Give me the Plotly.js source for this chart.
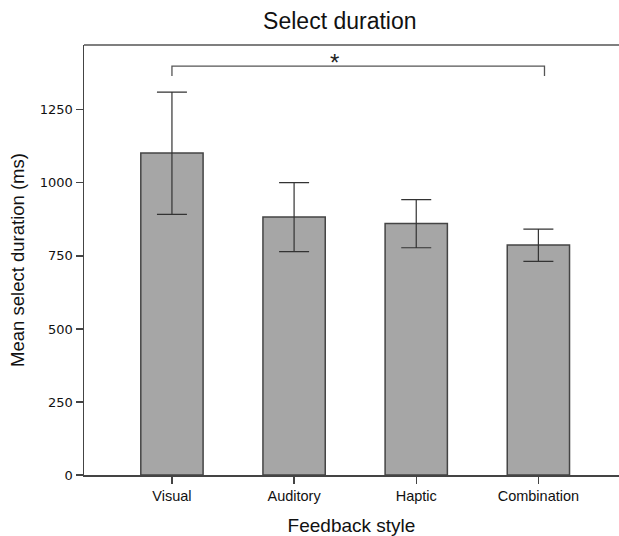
<!DOCTYPE html>
<html>
<head>
<meta charset="utf-8">
<script src="https://cdn.plot.ly/plotly-3.0.1.min.js"></script>
<style>html,body{margin:0;padding:0;background:#fff;}#chart{width:619px;height:536px;}</style>
</head>
<body>
<div id="chart"></div>
<script>
const categories = ['Visual', 'Auditory', 'Haptic', 'Combination'];
const means = [1102, 883, 861, 787];
const errPlus = [209, 118, 82, 55];
const errMinus = [210, 118, 83, 56];
const yTicks = [0, 250, 500, 750, 1000, 1250];
const bracketFrom = 0;
const bracketTo = 3.05;
const bracketTop = 1400;
const bracketBottom = 1366;
const sigLabel = '*';

const trace = {
  type: 'bar',
  x: [0, 1, 2, 3],
  y: means,
  width: 0.51,
  marker: {color: '#a6a6a6', line: {color: '#444444', width: 1.5}},
  error_y: {type: 'data', symmetric: false, array: errPlus, arrayminus: errMinus,
            color: '#333333', thickness: 1.2, width: 15},
  hoverinfo: 'none'
};

const layout = {
  width: 619, height: 536,
  margin: {l: 84, r: 0, t: 45, b: 61},
  paper_bgcolor: '#ffffff', plot_bgcolor: '#ffffff',
  showlegend: false,
  font: {family: 'Liberation Sans, Arial, sans-serif', color: '#111'},
  title: {text: 'Select duration', x: 0.549, xref: 'container', xanchor: 'center',
          y: 1 - 21/536, yref: 'container', yanchor: 'middle',
          font: {size: 23, color: '#111'}},
  xaxis: {
    range: [-0.72, 3.66],
    tickmode: 'array', tickvals: [0, 1, 2, 3], ticktext: categories,
    ticks: 'outside', ticklen: 7, tickcolor: '#444', tickwidth: 1.2,
    showline: true, linecolor: '#444', linewidth: 1.5,
    showgrid: false, zeroline: false,
    tickfont: {size: 14.5, color: '#111'},
    title: {text: 'Feedback style', font: {size: 19, color: '#111'}, standoff: 16}
  },
  yaxis: {
    range: [0, 1472],
    tickmode: 'array', tickvals: yTicks,
    ticks: 'outside', ticklen: 7, tickcolor: '#444', tickwidth: 1.2,
    showline: true, linecolor: '#444', linewidth: 1.5,
    showgrid: false, zeroline: false,
    tickfont: {size: 13, family: 'DejaVu Sans, sans-serif', color: '#111'},
    title: {text: 'Mean select duration (ms)', font: {size: 18.5, color: '#111'}, standoff: 10}
  },
  shapes: [
    {type: 'line', xref: 'paper', yref: 'paper', x0: 0, x1: 1, y0: 1, y1: 1,
     line: {color: '#555', width: 1.5}},
    {type: 'path', xref: 'x', yref: 'y',
     path: 'M ' + bracketFrom + ' ' + bracketBottom + ' L ' + bracketFrom + ' ' + bracketTop +
           ' L ' + bracketTo + ' ' + bracketTop + ' L ' + bracketTo + ' ' + bracketBottom,
     line: {color: '#555', width: 1.3}}
  ],
  annotations: [
    {x: 1.33, y: bracketTop, xref: 'x', yref: 'y', text: sigLabel, showarrow: false,
     yanchor: 'bottom', yshift: -12, font: {size: 24, color: '#222'}}
  ]
};

Plotly.newPlot('chart', [trace], layout, {staticPlot: true, displayModeBar: false});
</script>
</body>
</html>
